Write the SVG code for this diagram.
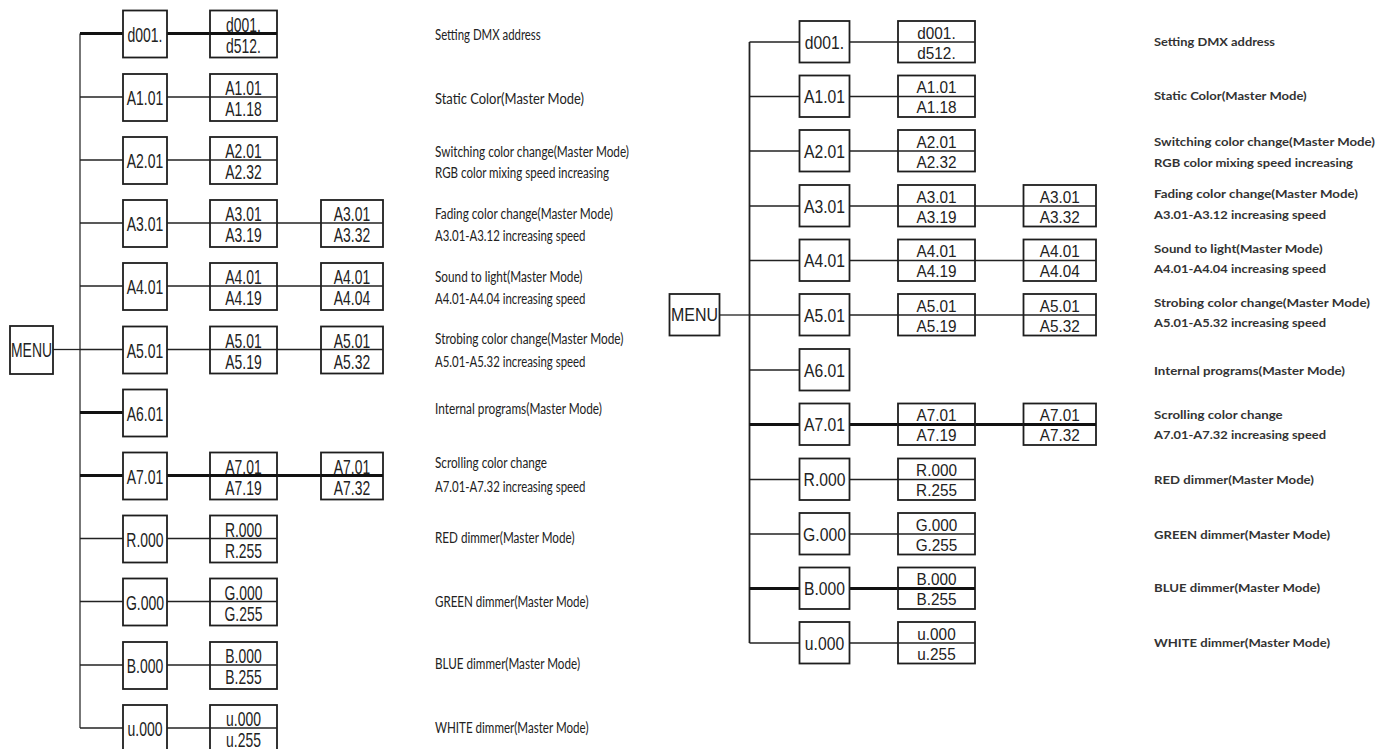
<svg xmlns="http://www.w3.org/2000/svg" width="1378" height="749" viewBox="0 0 1378 749">
<style>
.bg{fill:#fff}
.box{fill:#fff;stroke:#1e1e1e;stroke-width:1.8}
.dv{stroke:#222;stroke-width:1.3}
.dvt{stroke:#111;stroke-width:2.8}
.ln{stroke:#222;stroke-width:1.3;fill:none}
.tk{stroke:#111;stroke-width:2.8;fill:none}
.trunk{stroke:#555;stroke-width:1.6;fill:none}
.trunkr{stroke:#222;stroke-width:1.8;fill:none}
.nl{font-family:"Liberation Sans",Arial,sans-serif;font-size:21px;fill:#222;text-anchor:middle}
.nr{font-family:"Liberation Sans",Arial,sans-serif;font-size:18px;fill:#222;text-anchor:middle}
.nr2{font-family:"Liberation Sans",Arial,sans-serif;font-size:16px;fill:#222;text-anchor:middle}
.dl{font-family:Lato,"Open Sans",sans-serif;font-size:14.5px;fill:#222}
.dr{font-family:Lato,"Open Sans",sans-serif;font-size:12px;font-weight:bold;fill:#333}
</style>
<rect class="bg" x="0" y="0" width="1378" height="749"/>

<!-- ================= LEFT DIAGRAM ================= -->
<g id="left-connectors">
<line class="trunk" x1="80" y1="33.5" x2="80" y2="728"/>
<line class="ln" x1="53" y1="349.5" x2="80" y2="349.5"/>
<line class="tk" x1="80" y1="33.5" x2="123" y2="33.5"/>
<line class="ln" x1="80" y1="97" x2="123" y2="97"/>
<line class="ln" x1="80" y1="160" x2="123" y2="160"/>
<line class="ln" x1="80" y1="223" x2="123" y2="223"/>
<line class="ln" x1="80" y1="286" x2="123" y2="286"/>
<line class="ln" x1="80" y1="349.5" x2="123" y2="349.5"/>
<line class="tk" x1="80" y1="412.5" x2="123" y2="412.5"/>
<line class="tk" x1="80" y1="475.5" x2="123" y2="475.5"/>
<line class="ln" x1="80" y1="538.5" x2="123" y2="538.5"/>
<line class="ln" x1="80" y1="601.5" x2="123" y2="601.5"/>
<line class="ln" x1="80" y1="665" x2="123" y2="665"/>
<line class="ln" x1="80" y1="728" x2="123" y2="728"/>
<line class="tk" x1="167" y1="33.5" x2="210" y2="33.5"/>
<line class="ln" x1="167" y1="97" x2="210" y2="97"/>
<line class="ln" x1="167" y1="160" x2="210" y2="160"/>
<line class="ln" x1="167" y1="223" x2="210" y2="223"/>
<line class="ln" x1="167" y1="286" x2="210" y2="286"/>
<line class="ln" x1="167" y1="349.5" x2="210" y2="349.5"/>
<line class="tk" x1="167" y1="475.5" x2="210" y2="475.5"/>
<line class="ln" x1="167" y1="538.5" x2="210" y2="538.5"/>
<line class="ln" x1="167" y1="601.5" x2="210" y2="601.5"/>
<line class="ln" x1="167" y1="665" x2="210" y2="665"/>
<line class="ln" x1="167" y1="728" x2="210" y2="728"/>
<line class="ln" x1="277" y1="223" x2="321" y2="223"/>
<line class="ln" x1="277" y1="286" x2="321" y2="286"/>
<line class="ln" x1="277" y1="349.5" x2="321" y2="349.5"/>
<line class="tk" x1="277" y1="475.5" x2="321" y2="475.5"/>
</g>

<g id="L-menu"><rect class="box" x="10" y="326" width="43" height="48"/><text class="nl" x="31.5" y="356.5" textLength="41" lengthAdjust="spacingAndGlyphs">MENU</text></g>

<g id="L-d001"><rect class="box" x="123" y="10.5" width="44" height="47"/><text class="nl" x="145" y="41.5" textLength="35" lengthAdjust="spacingAndGlyphs">d001.</text></g>
<g id="L-d001-range"><rect class="box" x="210" y="10.5" width="67" height="47"/><line class="dvt" x1="210" y1="33.5" x2="277" y2="33.5"/><text class="nl" x="243.5" y="31.5" textLength="34.8" lengthAdjust="spacingAndGlyphs">d001.</text><text class="nl" x="243.5" y="52.5" textLength="34.8" lengthAdjust="spacingAndGlyphs">d512.</text></g>

<g id="L-A1"><rect class="box" x="123" y="74" width="44" height="47"/><text class="nl" x="145" y="105" textLength="36.5" lengthAdjust="spacingAndGlyphs">A1.01</text></g>
<g id="L-A1-range"><rect class="box" x="210" y="74" width="67" height="47"/><line class="dv" x1="210" y1="97" x2="277" y2="97"/><text class="nl" x="243.5" y="95" textLength="36.3" lengthAdjust="spacingAndGlyphs">A1.01</text><text class="nl" x="243.5" y="116" textLength="36.3" lengthAdjust="spacingAndGlyphs">A1.18</text></g>

<g id="L-A2"><rect class="box" x="123" y="137" width="44" height="47"/><text class="nl" x="145" y="168" textLength="36.5" lengthAdjust="spacingAndGlyphs">A2.01</text></g>
<g id="L-A2-range"><rect class="box" x="210" y="137" width="67" height="47"/><line class="dv" x1="210" y1="160" x2="277" y2="160"/><text class="nl" x="243.5" y="158" textLength="36.3" lengthAdjust="spacingAndGlyphs">A2.01</text><text class="nl" x="243.5" y="179" textLength="36.3" lengthAdjust="spacingAndGlyphs">A2.32</text></g>

<g id="L-A3"><rect class="box" x="123" y="200" width="44" height="47"/><text class="nl" x="145" y="231" textLength="36.5" lengthAdjust="spacingAndGlyphs">A3.01</text></g>
<g id="L-A3-range"><rect class="box" x="210" y="200" width="67" height="47"/><line class="dv" x1="210" y1="223" x2="277" y2="223"/><text class="nl" x="243.5" y="221" textLength="36.3" lengthAdjust="spacingAndGlyphs">A3.01</text><text class="nl" x="243.5" y="242" textLength="36.3" lengthAdjust="spacingAndGlyphs">A3.19</text></g>
<g id="L-A3-speed"><rect class="box" x="321" y="200" width="62" height="47"/><line class="dv" x1="321" y1="223" x2="383" y2="223"/><text class="nl" x="352" y="221" textLength="36.3" lengthAdjust="spacingAndGlyphs">A3.01</text><text class="nl" x="352" y="242" textLength="36.3" lengthAdjust="spacingAndGlyphs">A3.32</text></g>

<g id="L-A4"><rect class="box" x="123" y="263" width="44" height="47"/><text class="nl" x="145" y="294" textLength="36.5" lengthAdjust="spacingAndGlyphs">A4.01</text></g>
<g id="L-A4-range"><rect class="box" x="210" y="263" width="67" height="47"/><line class="dv" x1="210" y1="286" x2="277" y2="286"/><text class="nl" x="243.5" y="284" textLength="36.3" lengthAdjust="spacingAndGlyphs">A4.01</text><text class="nl" x="243.5" y="305" textLength="36.3" lengthAdjust="spacingAndGlyphs">A4.19</text></g>
<g id="L-A4-speed"><rect class="box" x="321" y="263" width="62" height="47"/><line class="dv" x1="321" y1="286" x2="383" y2="286"/><text class="nl" x="352" y="284" textLength="36.3" lengthAdjust="spacingAndGlyphs">A4.01</text><text class="nl" x="352" y="305" textLength="36.3" lengthAdjust="spacingAndGlyphs">A4.04</text></g>

<g id="L-A5"><rect class="box" x="123" y="326.5" width="44" height="47"/><text class="nl" x="145" y="357.5" textLength="36.5" lengthAdjust="spacingAndGlyphs">A5.01</text></g>
<g id="L-A5-range"><rect class="box" x="210" y="326.5" width="67" height="47"/><line class="dv" x1="210" y1="349.5" x2="277" y2="349.5"/><text class="nl" x="243.5" y="347.5" textLength="36.3" lengthAdjust="spacingAndGlyphs">A5.01</text><text class="nl" x="243.5" y="368.5" textLength="36.3" lengthAdjust="spacingAndGlyphs">A5.19</text></g>
<g id="L-A5-speed"><rect class="box" x="321" y="326.5" width="62" height="47"/><line class="dv" x1="321" y1="349.5" x2="383" y2="349.5"/><text class="nl" x="352" y="347.5" textLength="36.3" lengthAdjust="spacingAndGlyphs">A5.01</text><text class="nl" x="352" y="368.5" textLength="36.3" lengthAdjust="spacingAndGlyphs">A5.32</text></g>

<g id="L-A6"><rect class="box" x="123" y="389.5" width="44" height="47"/><text class="nl" x="145" y="420.5" textLength="36.5" lengthAdjust="spacingAndGlyphs">A6.01</text></g>

<g id="L-A7"><rect class="box" x="123" y="452.5" width="44" height="47"/><text class="nl" x="145" y="483.5" textLength="36.5" lengthAdjust="spacingAndGlyphs">A7.01</text></g>
<g id="L-A7-range"><rect class="box" x="210" y="452.5" width="67" height="47"/><line class="dvt" x1="210" y1="475.5" x2="277" y2="475.5"/><text class="nl" x="243.5" y="473.5" textLength="36.3" lengthAdjust="spacingAndGlyphs">A7.01</text><text class="nl" x="243.5" y="494.5" textLength="36.3" lengthAdjust="spacingAndGlyphs">A7.19</text></g>
<g id="L-A7-speed"><rect class="box" x="321" y="452.5" width="62" height="47"/><line class="dvt" x1="321" y1="475.5" x2="383" y2="475.5"/><text class="nl" x="352" y="473.5" textLength="36.3" lengthAdjust="spacingAndGlyphs">A7.01</text><text class="nl" x="352" y="494.5" textLength="36.3" lengthAdjust="spacingAndGlyphs">A7.32</text></g>

<g id="L-R"><rect class="box" x="123" y="515.5" width="44" height="47"/><text class="nl" x="145" y="546.5" textLength="37.3" lengthAdjust="spacingAndGlyphs">R.000</text></g>
<g id="L-R-range"><rect class="box" x="210" y="515.5" width="67" height="47"/><line class="dv" x1="210" y1="538.5" x2="277" y2="538.5"/><text class="nl" x="243.5" y="536.5" textLength="37.1" lengthAdjust="spacingAndGlyphs">R.000</text><text class="nl" x="243.5" y="557.5" textLength="37.1" lengthAdjust="spacingAndGlyphs">R.255</text></g>

<g id="L-G"><rect class="box" x="123" y="578.5" width="44" height="47"/><text class="nl" x="145" y="609.5" textLength="38.1" lengthAdjust="spacingAndGlyphs">G.000</text></g>
<g id="L-G-range"><rect class="box" x="210" y="578.5" width="67" height="47"/><line class="dv" x1="210" y1="601.5" x2="277" y2="601.5"/><text class="nl" x="243.5" y="599.5" textLength="37.9" lengthAdjust="spacingAndGlyphs">G.000</text><text class="nl" x="243.5" y="620.5" textLength="37.9" lengthAdjust="spacingAndGlyphs">G.255</text></g>

<g id="L-B"><rect class="box" x="123" y="642" width="44" height="47"/><text class="nl" x="145" y="673" textLength="36.5" lengthAdjust="spacingAndGlyphs">B.000</text></g>
<g id="L-B-range"><rect class="box" x="210" y="642" width="67" height="47"/><line class="dv" x1="210" y1="665" x2="277" y2="665"/><text class="nl" x="243.5" y="663" textLength="36.3" lengthAdjust="spacingAndGlyphs">B.000</text><text class="nl" x="243.5" y="684" textLength="36.3" lengthAdjust="spacingAndGlyphs">B.255</text></g>

<g id="L-u"><rect class="box" x="123" y="705" width="44" height="47"/><text class="nl" x="145" y="736" textLength="35" lengthAdjust="spacingAndGlyphs">u.000</text></g>
<g id="L-u-range"><rect class="box" x="210" y="705" width="67" height="47"/><line class="dv" x1="210" y1="728" x2="277" y2="728"/><text class="nl" x="243.5" y="726" textLength="34.8" lengthAdjust="spacingAndGlyphs">u.000</text><text class="nl" x="243.5" y="747" textLength="34.8" lengthAdjust="spacingAndGlyphs">u.255</text></g>

<g id="left-descriptions">
<text class="dl" x="435" y="40" textLength="105.7" lengthAdjust="spacingAndGlyphs">Setting DMX address</text>
<text class="dl" x="435" y="104" textLength="149" lengthAdjust="spacingAndGlyphs">Static Color(Master Mode)</text>
<text class="dl" x="435" y="156.7" textLength="194" lengthAdjust="spacingAndGlyphs">Switching color change(Master Mode)</text>
<text class="dl" x="435" y="178.3" textLength="174" lengthAdjust="spacingAndGlyphs">RGB color mixing speed increasing</text>
<text class="dl" x="435" y="219.3" textLength="178" lengthAdjust="spacingAndGlyphs">Fading color change(Master Mode)</text>
<text class="dl" x="435" y="240.5" textLength="150.5" lengthAdjust="spacingAndGlyphs">A3.01-A3.12 increasing speed</text>
<text class="dl" x="435" y="281.7" textLength="147.5" lengthAdjust="spacingAndGlyphs">Sound to light(Master Mode)</text>
<text class="dl" x="435" y="304.3" textLength="150.5" lengthAdjust="spacingAndGlyphs">A4.01-A4.04 increasing speed</text>
<text class="dl" x="435" y="344.3" textLength="188.5" lengthAdjust="spacingAndGlyphs">Strobing color change(Master Mode)</text>
<text class="dl" x="435" y="366.7" textLength="150.5" lengthAdjust="spacingAndGlyphs">A5.01-A5.32 increasing speed</text>
<text class="dl" x="435" y="414" textLength="167" lengthAdjust="spacingAndGlyphs">Internal programs(Master Mode)</text>
<text class="dl" x="435" y="468.3" textLength="112" lengthAdjust="spacingAndGlyphs">Scrolling color change</text>
<text class="dl" x="435" y="492.3" textLength="150.5" lengthAdjust="spacingAndGlyphs">A7.01-A7.32 increasing speed</text>
<text class="dl" x="435" y="543.3" textLength="139.5" lengthAdjust="spacingAndGlyphs">RED dimmer(Master Mode)</text>
<text class="dl" x="435" y="606.7" textLength="153.5" lengthAdjust="spacingAndGlyphs">GREEN dimmer(Master Mode)</text>
<text class="dl" x="435" y="669.3" textLength="145" lengthAdjust="spacingAndGlyphs">BLUE dimmer(Master Mode)</text>
<text class="dl" x="435" y="732.7" textLength="153.5" lengthAdjust="spacingAndGlyphs">WHITE dimmer(Master Mode)</text>
</g>

<!-- ================= RIGHT DIAGRAM ================= -->
<g id="right-connectors">
<line class="trunkr" x1="749.5" y1="42" x2="749.5" y2="643"/>
<line class="ln" x1="719.5" y1="315" x2="749.5" y2="315"/>
<line class="ln" x1="749.5" y1="42" x2="799.5" y2="42"/>
<line class="ln" x1="749.5" y1="96.5" x2="799.5" y2="96.5"/>
<line class="ln" x1="749.5" y1="151" x2="799.5" y2="151"/>
<line class="ln" x1="749.5" y1="206" x2="799.5" y2="206"/>
<line class="ln" x1="749.5" y1="260.5" x2="799.5" y2="260.5"/>
<line class="ln" x1="749.5" y1="315" x2="799.5" y2="315"/>
<line class="ln" x1="749.5" y1="370" x2="799.5" y2="370"/>
<line class="tk" x1="749.5" y1="424.5" x2="799.5" y2="424.5"/>
<line class="ln" x1="749.5" y1="479.5" x2="799.5" y2="479.5"/>
<line class="ln" x1="749.5" y1="534" x2="799.5" y2="534"/>
<line class="tk" x1="749.5" y1="588.5" x2="799.5" y2="588.5"/>
<line class="ln" x1="749.5" y1="643" x2="799.5" y2="643"/>
<line class="ln" x1="849.5" y1="42" x2="898" y2="42"/>
<line class="ln" x1="849.5" y1="96.5" x2="898" y2="96.5"/>
<line class="ln" x1="849.5" y1="151" x2="898" y2="151"/>
<line class="ln" x1="849.5" y1="206" x2="898" y2="206"/>
<line class="ln" x1="849.5" y1="260.5" x2="898" y2="260.5"/>
<line class="ln" x1="849.5" y1="315" x2="898" y2="315"/>
<line class="tk" x1="849.5" y1="424.5" x2="898" y2="424.5"/>
<line class="ln" x1="849.5" y1="479.5" x2="898" y2="479.5"/>
<line class="ln" x1="849.5" y1="534" x2="898" y2="534"/>
<line class="tk" x1="849.5" y1="588.5" x2="898" y2="588.5"/>
<line class="ln" x1="849.5" y1="643" x2="898" y2="643"/>
<line class="ln" x1="975" y1="206" x2="1023.5" y2="206"/>
<line class="ln" x1="975" y1="260.5" x2="1023.5" y2="260.5"/>
<line class="ln" x1="975" y1="315" x2="1023.5" y2="315"/>
<line class="tk" x1="975" y1="424.5" x2="1023.5" y2="424.5"/>
</g>

<g id="R-menu"><rect class="box" x="669.5" y="294" width="50" height="41.5"/><text class="nr" x="694.5" y="320.7" textLength="47" lengthAdjust="spacingAndGlyphs">MENU</text></g>

<g id="R-d001"><rect class="box" x="799.5" y="21" width="50" height="41.5"/><text class="nr" x="824.5" y="48.5" textLength="39.3" lengthAdjust="spacingAndGlyphs">d001.</text></g>
<g id="R-d001-range"><rect class="box" x="898" y="21" width="77" height="41.5"/><line class="dv" x1="898" y1="42" x2="975" y2="42"/><text class="nr2" x="936.5" y="38.5" textLength="38.3" lengthAdjust="spacingAndGlyphs">d001.</text><text class="nr2" x="936.5" y="58.5" textLength="38.3" lengthAdjust="spacingAndGlyphs">d512.</text></g>

<g id="R-A1"><rect class="box" x="799.5" y="75.5" width="50" height="41.5"/><text class="nr" x="824.5" y="103" textLength="41" lengthAdjust="spacingAndGlyphs">A1.01</text></g>
<g id="R-A1-range"><rect class="box" x="898" y="75.5" width="77" height="41.5"/><line class="dv" x1="898" y1="96.5" x2="975" y2="96.5"/><text class="nr2" x="936.5" y="93" textLength="40" lengthAdjust="spacingAndGlyphs">A1.01</text><text class="nr2" x="936.5" y="113" textLength="40" lengthAdjust="spacingAndGlyphs">A1.18</text></g>

<g id="R-A2"><rect class="box" x="799.5" y="130" width="50" height="41.5"/><text class="nr" x="824.5" y="157.5" textLength="41" lengthAdjust="spacingAndGlyphs">A2.01</text></g>
<g id="R-A2-range"><rect class="box" x="898" y="130" width="77" height="41.5"/><line class="dv" x1="898" y1="151" x2="975" y2="151"/><text class="nr2" x="936.5" y="147.5" textLength="40" lengthAdjust="spacingAndGlyphs">A2.01</text><text class="nr2" x="936.5" y="167.5" textLength="40" lengthAdjust="spacingAndGlyphs">A2.32</text></g>

<g id="R-A3"><rect class="box" x="799.5" y="185" width="50" height="41.5"/><text class="nr" x="824.5" y="212.5" textLength="41" lengthAdjust="spacingAndGlyphs">A3.01</text></g>
<g id="R-A3-range"><rect class="box" x="898" y="185" width="77" height="41.5"/><line class="dv" x1="898" y1="206" x2="975" y2="206"/><text class="nr2" x="936.5" y="202.5" textLength="40" lengthAdjust="spacingAndGlyphs">A3.01</text><text class="nr2" x="936.5" y="222.5" textLength="40" lengthAdjust="spacingAndGlyphs">A3.19</text></g>
<g id="R-A3-speed"><rect class="box" x="1023.5" y="185" width="72.5" height="41.5"/><line class="dv" x1="1023.5" y1="206" x2="1096" y2="206"/><text class="nr2" x="1059.75" y="202.5" textLength="40" lengthAdjust="spacingAndGlyphs">A3.01</text><text class="nr2" x="1059.75" y="222.5" textLength="40" lengthAdjust="spacingAndGlyphs">A3.32</text></g>

<g id="R-A4"><rect class="box" x="799.5" y="239.5" width="50" height="41.5"/><text class="nr" x="824.5" y="267" textLength="41" lengthAdjust="spacingAndGlyphs">A4.01</text></g>
<g id="R-A4-range"><rect class="box" x="898" y="239.5" width="77" height="41.5"/><line class="dv" x1="898" y1="260.5" x2="975" y2="260.5"/><text class="nr2" x="936.5" y="257" textLength="40" lengthAdjust="spacingAndGlyphs">A4.01</text><text class="nr2" x="936.5" y="277" textLength="40" lengthAdjust="spacingAndGlyphs">A4.19</text></g>
<g id="R-A4-speed"><rect class="box" x="1023.5" y="239.5" width="72.5" height="41.5"/><line class="dv" x1="1023.5" y1="260.5" x2="1096" y2="260.5"/><text class="nr2" x="1059.75" y="257" textLength="40" lengthAdjust="spacingAndGlyphs">A4.01</text><text class="nr2" x="1059.75" y="277" textLength="40" lengthAdjust="spacingAndGlyphs">A4.04</text></g>

<g id="R-A5"><rect class="box" x="799.5" y="294" width="50" height="41.5"/><text class="nr" x="824.5" y="321.5" textLength="41" lengthAdjust="spacingAndGlyphs">A5.01</text></g>
<g id="R-A5-range"><rect class="box" x="898" y="294" width="77" height="41.5"/><line class="dv" x1="898" y1="315" x2="975" y2="315"/><text class="nr2" x="936.5" y="311.5" textLength="40" lengthAdjust="spacingAndGlyphs">A5.01</text><text class="nr2" x="936.5" y="331.5" textLength="40" lengthAdjust="spacingAndGlyphs">A5.19</text></g>
<g id="R-A5-speed"><rect class="box" x="1023.5" y="294" width="72.5" height="41.5"/><line class="dv" x1="1023.5" y1="315" x2="1096" y2="315"/><text class="nr2" x="1059.75" y="311.5" textLength="40" lengthAdjust="spacingAndGlyphs">A5.01</text><text class="nr2" x="1059.75" y="331.5" textLength="40" lengthAdjust="spacingAndGlyphs">A5.32</text></g>

<g id="R-A6"><rect class="box" x="799.5" y="349" width="50" height="41.5"/><text class="nr" x="824.5" y="376.5" textLength="41" lengthAdjust="spacingAndGlyphs">A6.01</text></g>

<g id="R-A7"><rect class="box" x="799.5" y="403.5" width="50" height="41.5"/><text class="nr" x="824.5" y="431" textLength="41" lengthAdjust="spacingAndGlyphs">A7.01</text></g>
<g id="R-A7-range"><rect class="box" x="898" y="403.5" width="77" height="41.5"/><line class="dvt" x1="898" y1="424.5" x2="975" y2="424.5"/><text class="nr2" x="936.5" y="421" textLength="40" lengthAdjust="spacingAndGlyphs">A7.01</text><text class="nr2" x="936.5" y="441" textLength="40" lengthAdjust="spacingAndGlyphs">A7.19</text></g>
<g id="R-A7-speed"><rect class="box" x="1023.5" y="403.5" width="72.5" height="41.5"/><line class="dvt" x1="1023.5" y1="424.5" x2="1096" y2="424.5"/><text class="nr2" x="1059.75" y="421" textLength="40" lengthAdjust="spacingAndGlyphs">A7.01</text><text class="nr2" x="1059.75" y="441" textLength="40" lengthAdjust="spacingAndGlyphs">A7.32</text></g>

<g id="R-R"><rect class="box" x="799.5" y="458.5" width="50" height="41.5"/><text class="nr" x="824.5" y="486" textLength="41.9" lengthAdjust="spacingAndGlyphs">R.000</text></g>
<g id="R-R-range"><rect class="box" x="898" y="458.5" width="77" height="41.5"/><line class="dv" x1="898" y1="479.5" x2="975" y2="479.5"/><text class="nr2" x="936.5" y="476" textLength="40.8" lengthAdjust="spacingAndGlyphs">R.000</text><text class="nr2" x="936.5" y="496" textLength="40.8" lengthAdjust="spacingAndGlyphs">R.255</text></g>

<g id="R-G"><rect class="box" x="799.5" y="513" width="50" height="41.5"/><text class="nr" x="824.5" y="540.5" textLength="42.8" lengthAdjust="spacingAndGlyphs">G.000</text></g>
<g id="R-G-range"><rect class="box" x="898" y="513" width="77" height="41.5"/><line class="dv" x1="898" y1="534" x2="975" y2="534"/><text class="nr2" x="936.5" y="530.5" textLength="41.7" lengthAdjust="spacingAndGlyphs">G.000</text><text class="nr2" x="936.5" y="550.5" textLength="41.7" lengthAdjust="spacingAndGlyphs">G.255</text></g>

<g id="R-B"><rect class="box" x="799.5" y="567.5" width="50" height="41.5"/><text class="nr" x="824.5" y="595" textLength="41" lengthAdjust="spacingAndGlyphs">B.000</text></g>
<g id="R-B-range"><rect class="box" x="898" y="567.5" width="77" height="41.5"/><line class="dvt" x1="898" y1="588.5" x2="975" y2="588.5"/><text class="nr2" x="936.5" y="585" textLength="40" lengthAdjust="spacingAndGlyphs">B.000</text><text class="nr2" x="936.5" y="605" textLength="40" lengthAdjust="spacingAndGlyphs">B.255</text></g>

<g id="R-u"><rect class="box" x="799.5" y="622" width="50" height="41.5"/><text class="nr" x="824.5" y="649.5" textLength="39.3" lengthAdjust="spacingAndGlyphs">u.000</text></g>
<g id="R-u-range"><rect class="box" x="898" y="622" width="77" height="41.5"/><line class="dv" x1="898" y1="643" x2="975" y2="643"/><text class="nr2" x="936.5" y="639.5" textLength="38.3" lengthAdjust="spacingAndGlyphs">u.000</text><text class="nr2" x="936.5" y="659.5" textLength="38.3" lengthAdjust="spacingAndGlyphs">u.255</text></g>

<g id="right-descriptions">
<text class="dr" x="1154" y="46" textLength="121" lengthAdjust="spacingAndGlyphs">Setting DMX address</text>
<text class="dr" x="1154" y="100" textLength="152.7" lengthAdjust="spacingAndGlyphs">Static Color(Master Mode)</text>
<text class="dr" x="1154" y="146" textLength="221" lengthAdjust="spacingAndGlyphs">Switching color change(Master Mode)</text>
<text class="dr" x="1154" y="166.7" textLength="199" lengthAdjust="spacingAndGlyphs">RGB color mixing speed increasing</text>
<text class="dr" x="1154" y="198.3" textLength="204" lengthAdjust="spacingAndGlyphs">Fading color change(Master Mode)</text>
<text class="dr" x="1154" y="219.3" textLength="172" lengthAdjust="spacingAndGlyphs">A3.01-A3.12 increasing speed</text>
<text class="dr" x="1154" y="253.3" textLength="168.7" lengthAdjust="spacingAndGlyphs">Sound to light(Master Mode)</text>
<text class="dr" x="1154" y="273.3" textLength="172" lengthAdjust="spacingAndGlyphs">A4.01-A4.04 increasing speed</text>
<text class="dr" x="1154" y="306.7" textLength="216" lengthAdjust="spacingAndGlyphs">Strobing color change(Master Mode)</text>
<text class="dr" x="1154" y="326.7" textLength="172" lengthAdjust="spacingAndGlyphs">A5.01-A5.32 increasing speed</text>
<text class="dr" x="1154" y="375" textLength="191" lengthAdjust="spacingAndGlyphs">Internal programs(Master Mode)</text>
<text class="dr" x="1154" y="419.3" textLength="128.7" lengthAdjust="spacingAndGlyphs">Scrolling color change</text>
<text class="dr" x="1154" y="439" textLength="172" lengthAdjust="spacingAndGlyphs">A7.01-A7.32 increasing speed</text>
<text class="dr" x="1154" y="484" textLength="160" lengthAdjust="spacingAndGlyphs">RED dimmer(Master Mode)</text>
<text class="dr" x="1154" y="539" textLength="176" lengthAdjust="spacingAndGlyphs">GREEN dimmer(Master Mode)</text>
<text class="dr" x="1154" y="592.3" textLength="166" lengthAdjust="spacingAndGlyphs">BLUE dimmer(Master Mode)</text>
<text class="dr" x="1154" y="647.3" textLength="176" lengthAdjust="spacingAndGlyphs">WHITE dimmer(Master Mode)</text>
</g>
</svg>
